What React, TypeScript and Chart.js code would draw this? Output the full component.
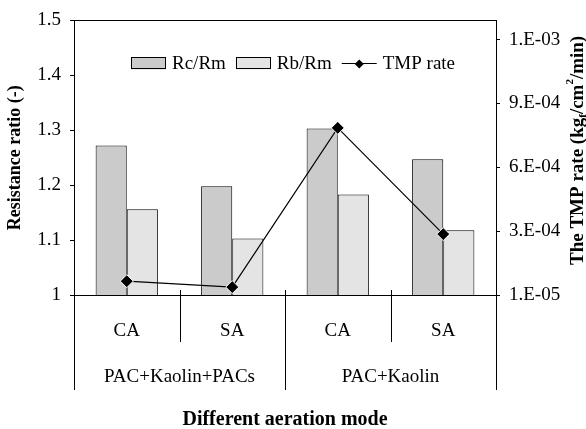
import React, { useEffect, useRef } from 'react';
import { Chart, registerables } from 'chart.js';

Chart.register(...registerables);

const categories = ['CA', 'SA', 'CA', 'SA'];
const groupLabels = ['PAC+Kaolin+PACs', 'PAC+Kaolin'];
const groupSizes = [2, 2];
const rcRm = [1.272, 1.198, 1.303, 1.247];
const rbRm = [1.156, 1.103, 1.183, 1.118];
const tmpRate = [7.5e-5, 4.7e-5, 7.95e-4, 2.96e-4];
const rightTicks = [1e-5, 3.1e-4, 6.1e-4, 9.1e-4, 1.21e-3];
const seriesNames = ['Rc/Rm', 'Rb/Rm', 'TMP rate'];
const xTitle = 'Different aeration mode';
const yTitle = 'Resistance ratio (-)';
const y2TitleParts = [
  { t: 'The TMP rate (kg', k: 'n' },
  { t: 'f', k: 'sub' },
  { t: '/cm', k: 'n' },
  { t: '2', k: 'sup' },
  { t: '/min)', k: 'n' },
];

const FONT = '"Liberation Serif", "Times New Roman", serif';
const RC_COLOR = '#cbcbcb';
const RB_COLOR = '#e4e4e4';
const FS = 19;

function fmtExp(v: number): string {
  let e = Math.floor(Math.log10(v) + 1e-9);
  let m = Math.round(v / Math.pow(10, e));
  if (m >= 10) { m = 1; e += 1; }
  const sign = e < 0 ? '-' : '+';
  return `${m}.E${sign}${String(Math.abs(e)).padStart(2, '0')}`;
}

const decorPlugin = {
  id: 'decor',
  afterDraw(chart: any) {
    const ctx = chart.ctx as CanvasRenderingContext2D;
    const a = chart.chartArea;
    const xs = chart.scales.x;
    const n = categories.length;
    const w = (a.right - a.left) / n;
    const px = (v: number) => Math.round(v) + 0.5;
    ctx.save();
    ctx.strokeStyle = '#000';
    ctx.lineWidth = 1;
    // top frame line
    ctx.beginPath();
    ctx.moveTo(a.left, px(a.top));
    ctx.lineTo(a.right, px(a.top));
    ctx.stroke();
    // category / group boundaries
    const groupEdges = new Set<number>();
    let acc = 0;
    groupEdges.add(0);
    groupSizes.forEach((s) => { acc += s; groupEdges.add(acc); });
    for (let i = 0; i <= n; i++) {
      const bx = i < n ? xs.getPixelForValue(i) - w / 2 : xs.getPixelForValue(n - 1) + w / 2;
      const isGroup = groupEdges.has(i);
      const y0 = i === 0 || i === n ? a.bottom : a.bottom - 5;
      const y1 = isGroup ? a.bottom + 95 : a.bottom + 47;
      ctx.beginPath();
      ctx.moveTo(px(bx), y0);
      ctx.lineTo(px(bx), y1);
      ctx.stroke();
    }
    // group labels
    ctx.fillStyle = '#000';
    ctx.textAlign = 'center';
    ctx.textBaseline = 'middle';
    ctx.font = `${FS}px ${FONT}`;
    let start = 0;
    groupLabels.forEach((g, gi) => {
      const end = start + groupSizes[gi] - 1;
      const cx = (xs.getPixelForValue(start) + xs.getPixelForValue(end)) / 2;
      ctx.fillText(g, cx, a.bottom + 82);
      start += groupSizes[gi];
    });
    // x title
    ctx.font = `bold 20px ${FONT}`;
    ctx.fillText(xTitle, (a.left + a.right) / 2, a.bottom + 125);

    // right title with sub/superscript
    ctx.save();
    ctx.translate(chart.width - 8, a.top + 130);
    ctx.rotate(-Math.PI / 2);
    ctx.textAlign = 'left';
    ctx.textBaseline = 'middle';
    const parts = y2TitleParts.map((p) => {
      const size = p.k === 'n' ? 19 : 11;
      ctx.font = `bold ${size}px ${FONT}`;
      return { ...p, size, w: ctx.measureText(p.t).width };
    });
    const total = parts.reduce((s, p) => s + p.w, 0);
    let tx = -total / 2;
    parts.forEach((p) => {
      ctx.font = `bold ${p.size}px ${FONT}`;
      const dy = p.k === 'sub' ? 5 : p.k === 'sup' ? -8 : 0;
      ctx.fillText(p.t, tx, dy);
      tx += p.w;
    });
    ctx.restore();

    // legend
    const ly = a.top + 43;
    let lx = a.left + 57;
    ctx.font = `${FS}px ${FONT}`;
    ctx.textAlign = 'left';
    ctx.textBaseline = 'middle';
    const ds = chart.data.datasets;
    ds.forEach((d: any) => {
      if (d.type === 'bar') {
        ctx.fillStyle = d.backgroundColor;
        ctx.fillRect(lx, ly - 6, 35, 12);
        ctx.strokeStyle = '#000';
        ctx.lineWidth = 1;
        ctx.strokeRect(px(lx), px(ly - 6), 34, 11);
      } else {
        ctx.strokeStyle = '#000';
        ctx.lineWidth = 1.2;
        ctx.beginPath();
        ctx.moveTo(lx, px(ly));
        ctx.lineTo(lx + 35, px(ly));
        ctx.stroke();
        ctx.fillStyle = '#000';
        const cx = lx + 17.5, cy = ly + 0.5, r = 4.5;
        ctx.beginPath();
        ctx.moveTo(cx - r, cy);
        ctx.lineTo(cx, cy - r);
        ctx.lineTo(cx + r, cy);
        ctx.lineTo(cx, cy + r);
        ctx.closePath();
        ctx.fill();
      }
      lx += 35 + 6;
      ctx.fillStyle = '#000';
      ctx.fillText(d.label, lx, ly + 1);
      lx += ctx.measureText(d.label).width + 10;
    });
    ctx.restore();
  },
};

export default function App() {
  const ref = useRef<HTMLCanvasElement | null>(null);
  useEffect(() => {
    document.body.style.margin = '0';
    if (!ref.current) return;
    const chart = new Chart(ref.current, {
      type: 'bar',
      data: {
        labels: categories,
        datasets: [
          {
            type: 'bar',
            label: seriesNames[0],
            data: rcRm,
            backgroundColor: RC_COLOR,
            borderColor: '#000',
            borderWidth: 1,
            yAxisID: 'y',
            order: 1,
            categoryPercentage: 0.59,
            barPercentage: 1,
          },
          {
            type: 'bar',
            label: seriesNames[1],
            data: rbRm,
            backgroundColor: RB_COLOR,
            borderColor: '#000',
            borderWidth: 1,
            yAxisID: 'y',
            order: 2,
            categoryPercentage: 0.59,
            barPercentage: 1,
          },
          {
            type: 'line',
            label: seriesNames[2],
            data: tmpRate,
            borderColor: '#000',
            borderWidth: 1.2,
            backgroundColor: '#000',
            pointStyle: 'rectRot',
            pointRadius: 6.5,
            pointBackgroundColor: '#000',
            pointBorderColor: '#fff',
            pointBorderWidth: 1,
            tension: 0,
            yAxisID: 'y2',
            order: 0,
          },
        ] as any,
      },
      options: {
        responsive: false,
        animation: false,
        layout: { padding: { top: 16, left: 0, right: 0, bottom: 0 } },
        plugins: { legend: { display: false }, tooltip: { enabled: false } },
        scales: {
          x: {
            grid: { display: false },
            border: { display: true, color: '#000', width: 1 },
            ticks: { color: '#000', font: { family: FONT, size: FS }, padding: 17, maxRotation: 0 },
            afterFit: (s: any) => { s.height = 134; },
          },
          y: {
            position: 'left',
            min: 1,
            max: 1.5,
            ticks: {
              stepSize: 0.1,
              color: '#000',
              font: { family: FONT, size: FS },
              padding: 9,
              callback: (v: any) => String(Number(Number(v).toFixed(1))),
            },
            grid: { drawOnChartArea: false, drawTicks: true, tickLength: 4, color: '#000', tickColor: '#000' },
            border: { display: true, color: '#000', width: 1 },
            title: {
              display: true,
              text: yTitle,
              color: '#000',
              font: { family: FONT, size: 18, weight: 'bold' },
              padding: { top: 5, bottom: 0 },
            },
            afterFit: (s: any) => { s.width = 74; },
          },
          y2: {
            position: 'right',
            min: 1e-5,
            max: 1.3e-3,
            afterBuildTicks: (s: any) => { s.ticks = rightTicks.map((v) => ({ value: v })); },
            ticks: {
              color: '#000',
              font: { family: FONT, size: FS },
              padding: 9,
              callback: (v: any) => fmtExp(Number(v)),
            },
            grid: { drawOnChartArea: false, drawTicks: true, tickLength: 4, color: '#000', tickColor: '#000' },
            border: { display: true, color: '#000', width: 1 },
            afterFit: (s: any) => { s.width = 90; },
          },
        },
      } as any,
      plugins: [decorPlugin],
    });
    return () => chart.destroy();
  }, []);
  return <canvas ref={ref} width={586} height={429} style={{ display: 'block' }} />;
}
